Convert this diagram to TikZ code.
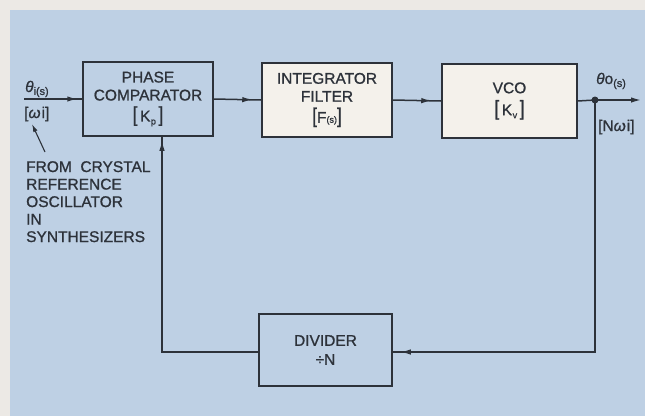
\documentclass[tikz,border=0pt]{standalone}
\usepackage{fontspec}
\usepackage{graphicx}
\setmainfont{Liberation Sans}[FakeBold=1.0]
\usetikzlibrary{arrows.meta,decorations.markings,calc}
\definecolor{bgblue}{RGB}{190,208,228}
\definecolor{paper}{RGB}{236,233,229}
\definecolor{cream}{RGB}{244,241,235}
\definecolor{ink}{RGB}{45,50,58}
\newcommand{\lbr}{\scalebox{1.1}[1.35]{[}}
\newcommand{\rbr}{\scalebox{1.1}[1.35]{]}}
\begin{document}
\begin{tikzpicture}[x=1pt,y=-1pt,
  box/.style={draw=ink,line width=1.5pt,minimum width=130pt,minimum height=74pt,align=center,
    font=\fontsize{15.5}{18}\selectfont,text=ink,inner sep=0pt},
  wire/.style={draw=ink,line width=1.5pt},
  tipA/.tip={Latex[length=10pt,width=5.5pt]},
  arr/.style={postaction={decorate},decoration={markings,mark=at position #1 with {\arrow[ink]{tipA}}}},
  lbl/.style={text=ink,font=\fontsize{15.5}{17.5}\selectfont,inner sep=0pt}
]
\fill[paper] (0,0) rectangle (645,416);
\fill[bgblue] (10,10) rectangle (645,416);
\useasboundingbox (0,0) rectangle (645,416);

% blocks
\node[box,fill=bgblue] (pc) at (148,99) {PHASE\\COMPARATOR\\[3pt]\lbr\,K\kern0.5pt\raisebox{-3pt}{\small p}\,\rbr};
\node[box,fill=cream] (int) at (327,100) {INTEGRATOR\\FILTER\\[3pt]\lbr F{\small(s)}\rbr};
\node[box,fill=cream,minimum width=135pt] (vco) at (509.5,101) {VCO\\[4pt]\lbr\,K\kern0.5pt\raisebox{-3pt}{\small v}\,\rbr};
\node[box,fill=bgblue,minimum width=133pt,minimum height=72pt] (div) at (325.5,350) {DIVIDER\\[1pt]÷N};

% junction and free ends
\node[circle,fill=ink,inner sep=0pt,minimum size=7pt] (j) at (595,100) {};
\coordinate (inS) at (24,99);
\coordinate (outE) at (641,100);
\coordinate (fbtop) at ($(pc.south)+(14,0)$);
\coordinate (fbcorner) at (595,352);

% forward path
\draw[wire,arr=-5pt] (inS) -- (pc.west);
\draw[wire,arr=-9pt] (pc.east) -- (int.west);
\draw[wire,arr=-10pt] (int.east) -- (vco.west);
\draw[wire] (vco.east) -- (j.center);
\draw[wire,-tipA] (j.center) -- (outE);

% feedback path
\draw[wire,arr=-8pt] (j.center) -- (fbcorner) -- (div.east |- fbcorner);
\draw[wire,arr=-4pt] (div.west |- fbcorner) -| (fbtop);

% labels
\node[lbl,anchor=base west] (thi) at (25,92) {\textit{θ}\textsubscript{i(s)}};
\node[lbl,anchor=west] (wi) at (24,114) {[\textit{ω}\kern1pt i]};
\coordinate (leadS) at (45,152);
\coordinate (leadE) at (32,124);
\draw[draw=ink,line width=1.1pt,-{Latex[length=8pt,width=4.5pt]}] (leadS) -- (leadE);
\node[lbl,anchor=north west,align=left] (from) at (26,161) {FROM\ \ CRYSTAL\\REFERENCE\\OSCILLATOR\\IN\\SYNTHESIZERS};

\node[lbl,anchor=base west] (tho) at (596,84) {\textit{θ}o\textsubscript{(s)}};
\node[lbl,anchor=west] (nwi) at (598,127) {[N\textit{ω}\kern1pt i]};
\end{tikzpicture}
\end{document}
